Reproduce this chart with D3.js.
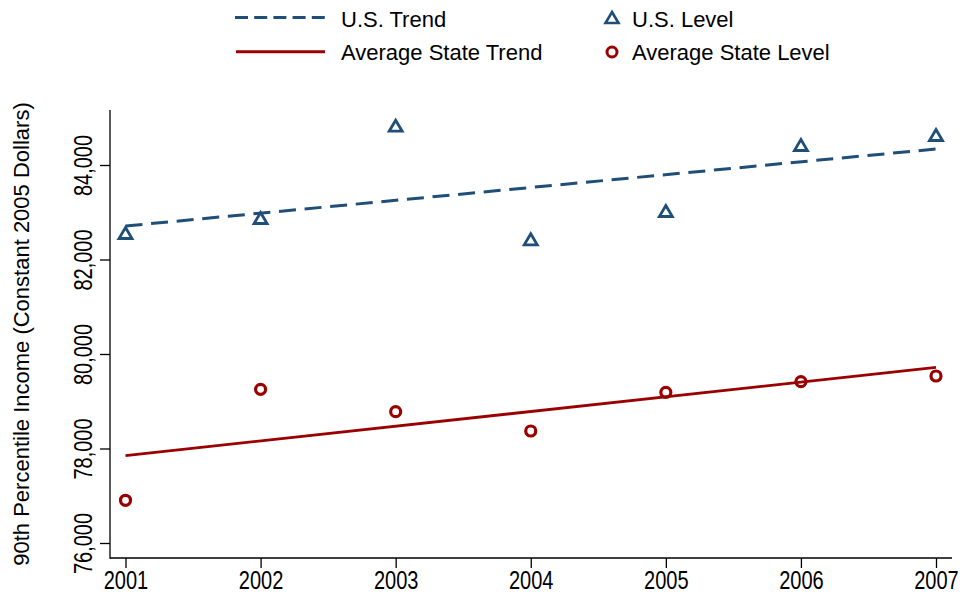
<!DOCTYPE html>
<html>
<head>
<meta charset="utf-8">
<script src="https://cdn.jsdelivr.net/npm/d3@7/dist/d3.min.js"></script>
<style>
  html, body { margin: 0; padding: 0; background: #fff; }
  svg { display: block; font-family: "Liberation Sans", Arial, Helvetica, sans-serif; }
</style>
</head>
<body>
<svg id="chart" width="974" height="594"></svg>
<script>
// ---- data ----
const years = [2001, 2002, 2003, 2004, 2005, 2006, 2007];
const usLevel = [82561, 82878, 84832, 82428, 83026, 84423, 84635];
const stateLevel = [76904, 79253, 78779, 78370, 79189, 79414, 79534];
const trendYears = [2001, 2007];
const usTrend = [82709, 84339];
const stateTrend = [77848, 79718];
const yTicks = [76000, 78000, 80000, 82000, 84000];
const yTitle = "90th Percentile Income (Constant 2005 Dollars)";
const legendLabels = ["U.S. Trend", "Average State Trend", "U.S. Level", "Average State Level"];

// ---- layout ----
const blue = "#1f4e79", red = "#9a0000";
const plotLeft = 110, plotRight = 952, plotTop = 110, plotBottom = 558;

const svg = d3.select("#chart");
const x = d3.scaleLinear().domain([2001, 2007]).range([125.5, 936]);
const y = d3.scaleLinear().domain([76000, 84000]).range([543, 165]);

// axes
const xAxis = d3.axisBottom(x).tickValues(years).tickFormat(d3.format("d")).tickSize(10).tickSizeOuter(0);
const gx = svg.append("g").attr("transform", `translate(0,${plotBottom})`).call(xAxis);
gx.select(".domain").remove();
gx.selectAll(".tick line").attr("stroke", "#000").attr("stroke-width", 1.3);
gx.selectAll(".tick text")
  .attr("y", null).attr("dy", null)
  .attr("transform", "translate(0,31) scale(0.77,1)")
  .attr("font-size", 26).attr("fill", "#000")
  .attr("font-family", "'Liberation Sans', Arial, sans-serif");

const yAxis = d3.axisLeft(y).tickValues(yTicks).tickFormat(d3.format(",")).tickSize(10).tickSizeOuter(0);
const gy = svg.append("g").attr("transform", `translate(${plotLeft},0)`).call(yAxis);
gy.select(".domain").remove();
gy.selectAll(".tick line").attr("stroke", "#000").attr("stroke-width", 1.3);
gy.selectAll(".tick text")
  .attr("x", null).attr("dy", null)
  .attr("text-anchor", "middle")
  .attr("transform", "translate(-18.3,0) rotate(-90) scale(0.77,1)")
  .attr("font-size", 26).attr("fill", "#000")
  .attr("font-family", "'Liberation Sans', Arial, sans-serif");

// axis lines
svg.append("line").attr("x1", plotLeft).attr("x2", plotLeft).attr("y1", plotTop).attr("y2", plotBottom + 0.65)
  .attr("stroke", "#000").attr("stroke-width", 1.3);
svg.append("line").attr("x1", plotLeft).attr("x2", plotRight).attr("y1", plotBottom).attr("y2", plotBottom)
  .attr("stroke", "#000").attr("stroke-width", 1.3);

// y title
svg.append("text")
  .attr("transform", `translate(28.6,${(plotTop + plotBottom) / 2}) rotate(-90)`)
  .attr("text-anchor", "middle").attr("font-size", 22).attr("fill", "#000")
  .text(yTitle);

// trend lines
const line = d3.line().x(d => x(d[0])).y(d => y(d[1]));
svg.append("path").datum(trendYears.map((t, i) => [t, usTrend[i]]))
  .attr("d", line).attr("fill", "none").attr("stroke", blue).attr("stroke-width", 3)
  .attr("stroke-dasharray", "17,8.7");
svg.append("path").datum(trendYears.map((t, i) => [t, stateTrend[i]]))
  .attr("d", line).attr("fill", "none").attr("stroke", red).attr("stroke-width", 2.8);

// markers
const triPath = "M0,-5.5L6.5,5.5L-6.5,5.5Z";
svg.append("g").selectAll("path").data(years).join("path")
  .attr("d", triPath)
  .attr("transform", (d, i) => `translate(${x(d)},${y(usLevel[i])})`)
  .attr("fill", "none").attr("stroke", blue).attr("stroke-width", 2.8).attr("stroke-linejoin", "miter");
svg.append("g").selectAll("circle").data(years).join("circle")
  .attr("cx", d => x(d)).attr("cy", (d, i) => y(stateLevel[i])).attr("r", 5)
  .attr("fill", "none").attr("stroke", red).attr("stroke-width", 3.2);

// legend
const lg = svg.append("g");
lg.append("line").attr("x1", 235).attr("x2", 325).attr("y1", 17.5).attr("y2", 17.5)
  .attr("stroke", blue).attr("stroke-width", 3).attr("stroke-dasharray", "13,6.2");
lg.append("line").attr("x1", 236).attr("x2", 325).attr("y1", 51.7).attr("y2", 51.7)
  .attr("stroke", red).attr("stroke-width", 3);
lg.append("path").attr("d", triPath).attr("transform", "translate(612,17.5)")
  .attr("fill", "none").attr("stroke", blue).attr("stroke-width", 2.6);
lg.append("circle").attr("cx", 612).attr("cy", 52).attr("r", 5)
  .attr("fill", "none").attr("stroke", red).attr("stroke-width", 3);
const legPos = [[341, 26.7], [341, 60], [632, 26.7], [632, 60]];
lg.selectAll("text").data(legendLabels).join("text")
  .attr("x", (d, i) => legPos[i][0]).attr("y", (d, i) => legPos[i][1])
  .attr("font-size", 22).attr("fill", "#000")
  .text(d => d);
</script>
</body>
</html>
